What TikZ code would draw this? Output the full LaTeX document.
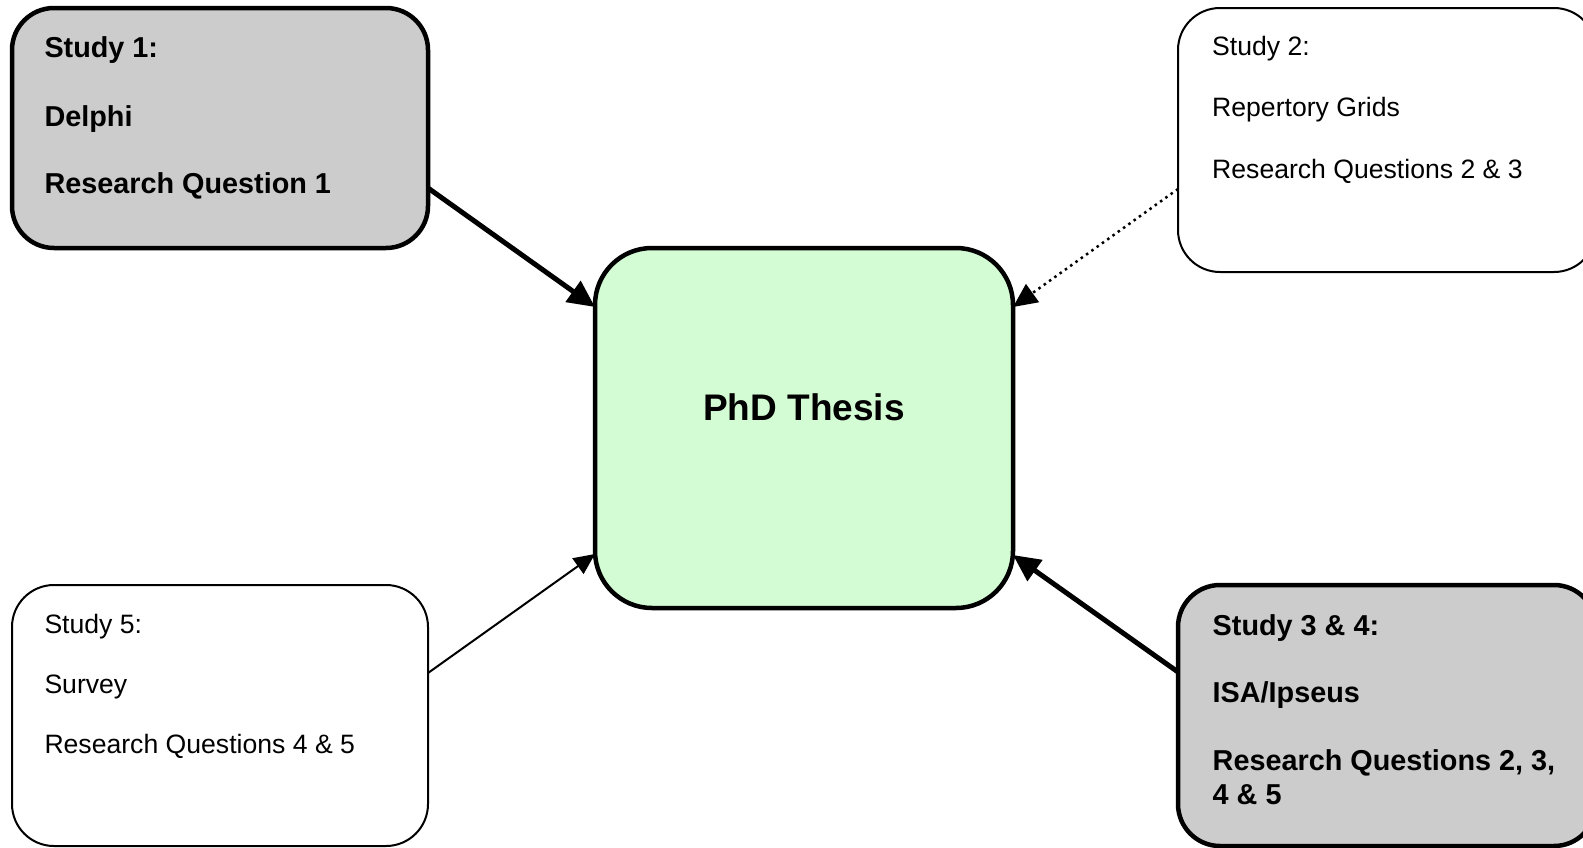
\documentclass[tikz,border=0pt]{standalone}
\usepackage{fontspec}
\setmainfont{Liberation Sans}
\usetikzlibrary{arrows.meta}
\definecolor{boxgray}{RGB}{204,204,204}
\definecolor{thesisgreen}{RGB}{212,252,212}
\begin{document}
\begin{tikzpicture}[x=1pt,y=-1pt,
  studybox/.style={draw=black, rectangle, rounded corners=42pt, inner sep=0pt, outer sep=0pt, anchor=north west},
  boldbox/.style={studybox, fill=boxgray, line width=4.5pt},
  plainbox/.style={studybox, fill=white, line width=2pt},
  thesisbox/.style={draw=black, fill=thesisgreen, line width=4.5pt, rectangle, rounded corners=57pt,
    inner sep=0pt, outer sep=0pt, minimum width=418pt, minimum height=360pt},
  boldline/.style={anchor=base west, inner sep=0pt, font=\bfseries\fontsize{28.8}{33}\selectfont},
  plainline/.style={anchor=base west, inner sep=0pt, font=\fontsize{26.6}{30.6}\selectfont},
  titleline/.style={anchor=base, inner sep=0pt, font=\bfseries\fontsize{37}{42}\selectfont},
  heavyarrow/.style={line width=5pt, -{Triangle[length=27pt,width=25pt]}},
  thinarrow/.style={line width=2pt, -{Triangle[length=21pt,width=19pt]}},
  dotarrow/.style={line width=2.5pt, dash pattern=on 2.5pt off 4pt, -{Triangle[length=24pt,width=22pt]}}
]
\useasboundingbox (0,0) rectangle (1583,847);
\fill[white] (0,0) rectangle (1583,847);
\clip (0,0) rectangle (1583,847);

% central node
\node[thesisbox] (thesis) at (804,428) {};
\node[titleline] (thesistitle) at (804,420) {PhD Thesis};

% study boxes
\node[boldbox, minimum width=416pt, minimum height=240pt] (s1) at (12,8) {};
\node[plainbox, minimum width=418pt, minimum height=264pt] (s2) at (1178,8) {};
\node[plainbox, minimum width=416pt, minimum height=261pt] (s5) at (12,585) {};
\node[boldbox, minimum width=418pt, minimum height=261pt] (s34) at (1178,585) {};

% study 1
\node[boldline] (s1a) at (44.3,57.3) {Study 1:};
\node[boldline] (s1b) at (44.3,126) {Delphi};
\node[boldline] (s1c) at (44.3,193) {Research Question 1};

% study 2
\node[plainline] (s2a) at (1212,55) {Study 2:};
\node[plainline] (s2b) at (1212,116) {Repertory Grids};
\node[plainline] (s2c) at (1212,178) {Research Questions 2 \& 3};

% study 5
\node[plainline] (s5a) at (44.3,633) {Study 5:};
\node[plainline] (s5b) at (44.3,693) {Survey};
\node[plainline] (s5c) at (44.3,753) {Research Questions 4 \& 5};

% studies 3 and 4
\node[boldline] (s34a) at (1212.5,635) {Study 3 \& 4:};
\node[boldline] (s34b) at (1212.5,702) {ISA/Ipseus};
\node[boldline] (s34c) at (1212.5,770) {Research Questions 2, 3,};
\node[boldline] (s34d) at (1212.5,804) {4 \& 5};

% connectors into the thesis
\draw[heavyarrow] ([yshift=-60pt]s1.east) -- ([yshift=121pt]thesis.west);
\draw[dotarrow] ([yshift=-49pt]s2.west) -- ([yshift=121pt]thesis.east);
\draw[thinarrow] ([yshift=42.5pt]s5.east) -- ([yshift=-126pt]thesis.west);
\draw[heavyarrow] ([yshift=43.5pt]s34.west) -- ([yshift=-127pt]thesis.east);
\end{tikzpicture}
\end{document}
